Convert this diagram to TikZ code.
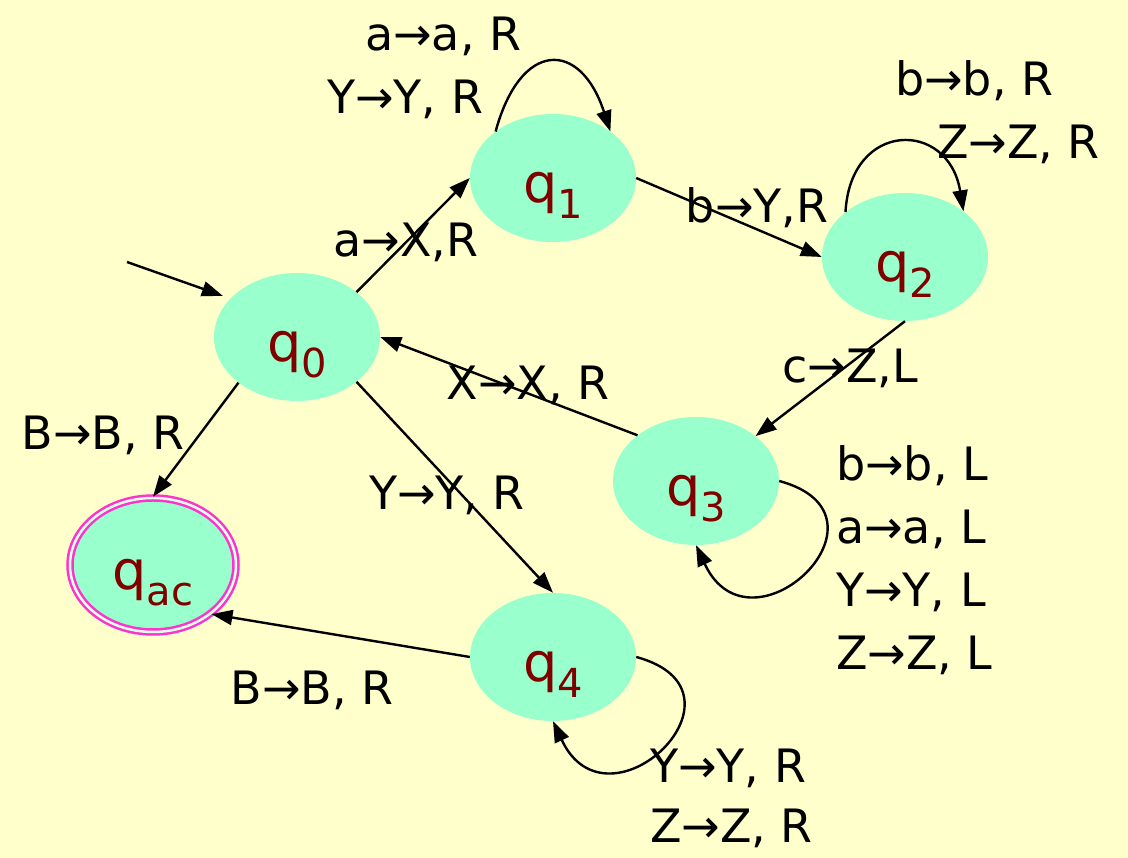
\documentclass[tikz,border=0pt]{standalone}
\usepackage{fontspec}
\setmainfont{DejaVu Sans}
\usetikzlibrary{arrows.meta,shapes.geometric}

\definecolor{paper}{HTML}{FFFFCC}
\definecolor{mint}{HTML}{99FFCC}
\definecolor{darkred}{HTML}{800000}
\definecolor{ring}{HTML}{FF33CC}

% state name with a lowered index
\newcommand{\qname}[1]{q\raisebox{-16pt}{\fontsize{40}{40}\selectfont #1}}

\begin{document}
\begin{tikzpicture}[
  x=1pt, y=1pt,
  font=\fontsize{46}{63}\selectfont,
  state/.style={ellipse, fill=mint, inner sep=0pt, minimum width=166pt, minimum height=128pt,
    text height=66pt, text depth=16pt, text=darkred, font=\fontsize{54}{54}\selectfont},
  accept/.style={state, draw=ring, line width=2.5pt, double=mint!35!white, double distance=2.5pt,
    minimum width=166pt, minimum height=134pt},
  arr/.style={-{Triangle[length=21pt,width=15pt]}, line width=2.4pt},
  lbl/.style={inner sep=0pt}
]
\useasboundingbox (0,0) rectangle (1128,858);
\fill[paper] (0,0) rectangle (1128,858);

\node[state] (q0) at (297,521) {\qname{0}};
\node[state] (q1) at (553,680) {\qname{1}};
\node[state] (q2) at (905,601) {\qname{2}};
\node[state] (q3) at (696,377) {\qname{3}};
\node[state] (q4) at (553,201) {\qname{4}};
\node[accept] (qac) at (153,293) {\qname{ac}};

\coordinate (init) at (127,596);
\draw[arr, shorten >=8pt] (init) -- (q0.150);

\draw[arr] (q0.37) -- (q1.west);
\draw[arr] (q1.east) -- (q2.west);
\draw[arr] (q2.south) -- (q3.37);
\draw[arr] (q3.142) -- (q0.east);
\draw[arr] (q0.218) -- (qac.north);
\draw[arr] (q0.-37) -- (q4.north);
\draw[arr] (q4.west) -- (qac.-40);

% self loops
\draw[arr] (q1.141) .. controls +(25,92) and +(-30,92) .. (q1.39);
\draw[arr] (q2.143) .. controls +(5,92) and +(-15,92) .. (q2.38);
\draw[arr] (q3.east) .. controls +(126,-34) and +(55,-118) .. (q3.south);
\draw[arr] (q4.east) .. controls +(126,-34) and +(55,-118) .. (q4.south);

\node[lbl, anchor=base] (l01) at (406,601) {a→X,R};
\node[lbl, anchor=base] (l12) at (757,635) {b→Y,R};
\node[lbl, anchor=base] (l23) at (850,475) {c→Z,L};
\node[lbl, anchor=base] (l30) at (528,458) {X→X, R};
\node[lbl, anchor=base] (l0ac) at (103,408) {B→B, R};
\node[lbl, anchor=base] (l04) at (447,348) {Y→Y, R};
\node[lbl, anchor=base] (l4ac) at (312,153) {B→B, R};

\node[lbl, align=left, anchor=north west] (l11) at (327,841)
  {\hspace{38pt}a→a, R\\Y→Y, R};
\node[lbl, align=left, anchor=north west] (l22) at (895,798)
  {b→b, R\\\hspace{42pt}Z→Z, R};
\node[lbl, align=left, anchor=north west] (l33) at (836,413)
  {b→b, L\\a→a, L\\Y→Y, L\\Z→Z, L};
\node[lbl, align=left, anchor=north west, font=\fontsize{46}{60}\selectfont] (l44) at (650,109)
  {Y→Y, R\\Z→Z, R};

\end{tikzpicture}
\end{document}
